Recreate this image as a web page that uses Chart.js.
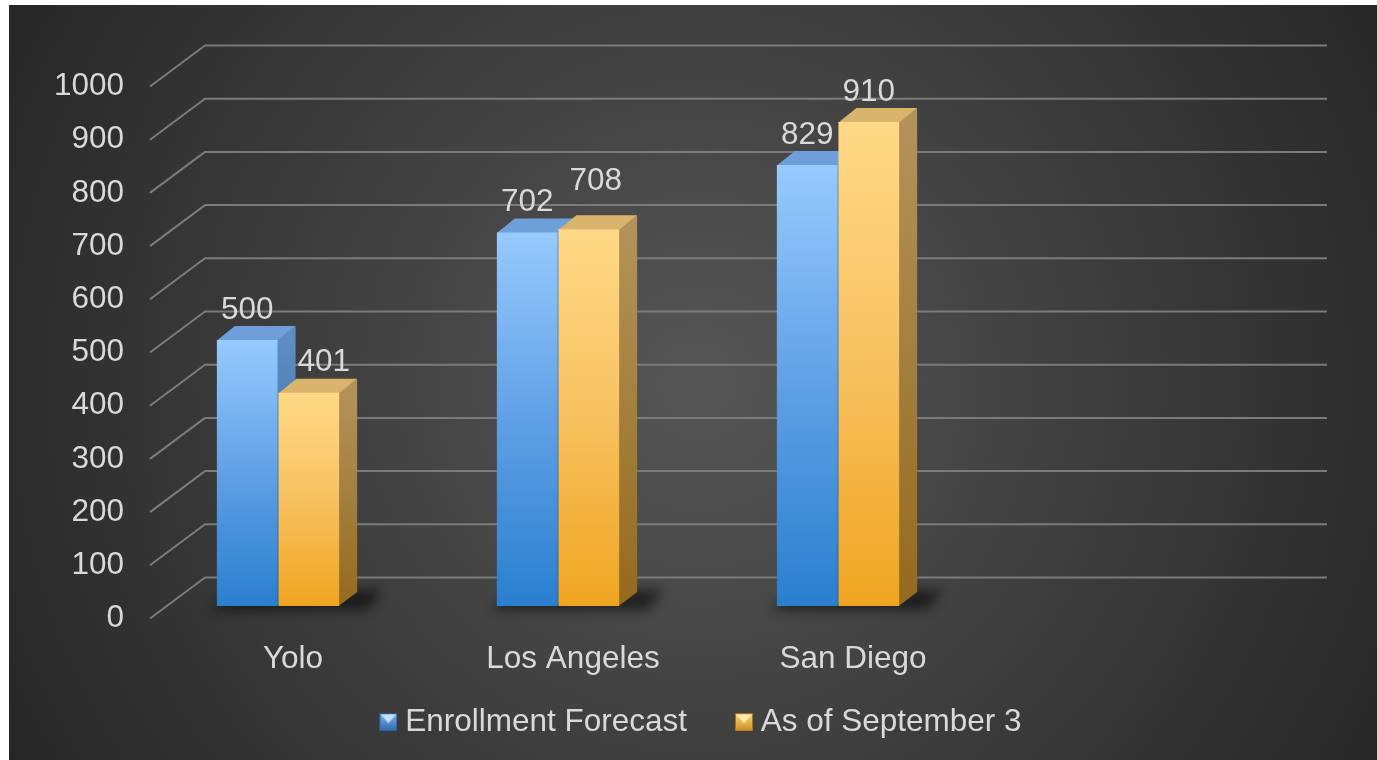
<!DOCTYPE html>
<html>
<head>
<meta charset="utf-8">
<script src="https://cdn.jsdelivr.net/npm/chart.js@4.4.1/dist/chart.umd.min.js"></script>
<style>
html,body{margin:0;padding:0;background:#ffffff;}
#wrap{position:absolute;left:9px;top:5px;width:1368px;height:755px;}
</style>
</head>
<body>
<div id="wrap"><canvas id="c"></canvas></div>
<script>
// ---- data ----
const categories = ['Yolo', 'Los Angeles', 'San Diego', ''];
const enrollmentForecast = [500, 702, 829, null];
const asOfSeptember3 = [401, 708, 910, null];
const seriesLabels = ['Enrollment Forecast', 'As of September 3'];
const yTickValues = [0, 100, 200, 300, 400, 500, 600, 700, 800, 900, 1000];

// ---- style ----
const FONT = "'Liberation Sans', Arial, sans-serif";
const FS = 31.5;
const TEXT = '#d9d9d9';
const DX = 18, DY = -14;
const PAL = [
  {top:'#97cafd', mid:'#60a0e5', bot:'#2a7fce', sideTop:'#5e8dc2', sideBot:'#215c98', cap:'#6e9fda',
   iTop:'#78b0ee', iBot:'#2e6aab', iTri:'rgba(215,235,255,0.85)', iEdge:'#2a5c94'},
  {top:'#ffd987', mid:'#f7c160', bot:'#f0a521', sideTop:'#b3925a', sideBot:'#946a1e', cap:'#d8b46c',
   iTop:'#fad67f', iBot:'#cf8f1c', iTri:'rgba(255,238,180,0.9)', iEdge:'#a7741b'}
];

function makeIcon(p) {
  const c = document.createElement('canvas');
  c.width = 18; c.height = 18;
  const g = c.getContext('2d');
  const gr = g.createLinearGradient(0, 0, 0, 18);
  gr.addColorStop(0, p.iTop); gr.addColorStop(1, p.iBot);
  g.fillStyle = gr; g.fillRect(0, 0, 18, 18);
  g.fillStyle = p.iTri;
  g.beginPath(); g.moveTo(1, 1); g.lineTo(17, 1); g.lineTo(9, 10); g.closePath(); g.fill();
  g.strokeStyle = p.iEdge; g.lineWidth = 1; g.strokeRect(0.5, 0.5, 17, 17);
  return c;
}
const icons = PAL.map(makeIcon);

function frontGradient(ctxArg, idx) {
  const chart = ctxArg.chart;
  const p = PAL[idx];
  if (!chart.chartArea || ctxArg.type !== 'data' || ctxArg.raw == null) return p.bot;
  const ys = chart.scales.y;
  const t = ys.getPixelForValue(ctxArg.raw), b = ys.getPixelForValue(0);
  const g = chart.ctx.createLinearGradient(0, t, 0, b);
  g.addColorStop(0, p.top); g.addColorStop(0.5, p.mid); g.addColorStop(1, p.bot);
  return g;
}

const bgPlugin = {
  id: 'bg',
  beforeDraw(chart) {
    const {ctx, width, height} = chart;
    ctx.save();
    const g = ctx.createRadialGradient(690, 375, 0, 690, 375, 790);
    g.addColorStop(0, '#565656');
    g.addColorStop(1, '#262626');
    ctx.fillStyle = g;
    ctx.fillRect(0, 0, width, height);
    ctx.restore();
  }
};

const legendPlace = {
  id: 'legendPlace',
  afterLayout(chart) {
    const lg = chart.legend;
    if (!lg) return;
    lg.top = 645.5;
    lg.height = 105;
    lg.bottom = lg.top + lg.height;
    lg.left -= 2; lg.right -= 2;
  }
};

const threeD = {
  id: 'threeD',
  beforeDatasetsDraw(chart) {
    const ctx = chart.ctx, ys = chart.scales.y, ca = chart.chartArea;
    // back wall + side wall grid lines
    ctx.save();
    ctx.strokeStyle = '#7b7b7b'; ctx.lineWidth = 2; ctx.lineJoin = 'round';
    ys.ticks.forEach(t => {
      const py = ys.getPixelForValue(t.value);
      ctx.beginPath();
      ctx.moveTo(ca.left + 12, py + 12.5);
      ctx.lineTo(ca.left + 67, py - 28.5);
      ctx.lineTo(ca.right + 69, py - 28.5);
      ctx.stroke();
    });
    ctx.restore();
    // floor shadows
    const m0 = chart.getDatasetMeta(0), m1 = chart.getDatasetMeta(1);
    ctx.save();
    ctx.filter = 'blur(6px)';
    ctx.fillStyle = 'rgba(0,0,0,0.55)';
    m0.data.forEach((b0, i) => {
      const b1 = m1.data[i];
      if (chart.data.datasets[0].data[i] == null) return;
      const p0 = b0.getProps(['x','width','base'], true), p1 = b1.getProps(['x','width','base'], true);
      const l = p0.x - p0.width / 2, r = p1.x + p1.width / 2, base = p0.base;
      ctx.beginPath();
      ctx.moveTo(l - 6, base + 4);
      ctx.lineTo(r + DX + 10, base + 4);
      ctx.lineTo(r + DX + 26, base + DY - 2);
      ctx.lineTo(l + DX, base + DY - 2);
      ctx.closePath();
      ctx.fill();
    });
    ctx.restore();
    // sides and tops
    chart.data.datasets.forEach((ds, di) => {
      const p = PAL[di];
      chart.getDatasetMeta(di).data.forEach((bar, i) => {
        if (ds.data[i] == null) return;
        const {x, y, width, base} = bar.getProps(['x','y','width','base'], true);
        const l = x - width / 2, r = x + width / 2;
        ctx.save();
        const sg = ctx.createLinearGradient(0, y, 0, base);
        sg.addColorStop(0, p.sideTop); sg.addColorStop(1, p.sideBot);
        ctx.fillStyle = sg;
        ctx.beginPath();
        ctx.moveTo(r - 0.5, y); ctx.lineTo(r + DX, y + DY); ctx.lineTo(r + DX, base + DY); ctx.lineTo(r - 0.5, base);
        ctx.closePath(); ctx.fill();
        ctx.fillStyle = p.cap;
        ctx.beginPath();
        ctx.moveTo(l, y + 0.5); ctx.lineTo(l + DX, y + DY); ctx.lineTo(r + DX, y + DY); ctx.lineTo(r, y + 0.5);
        ctx.closePath(); ctx.fill();
        ctx.restore();
      });
    });
  },
  afterDatasetsDraw(chart) {
    const ctx = chart.ctx;
    ctx.save();
    ctx.font = FS + 'px ' + FONT;
    ctx.fillStyle = TEXT;
    ctx.textAlign = 'center';
    ctx.textBaseline = 'middle';
    const placed = {};
    chart.data.datasets.forEach((ds, di) => {
      chart.getDatasetMeta(di).data.forEach((bar, i) => {
        if (ds.data[i] == null) return;
        const {x, y} = bar.getProps(['x','y'], true);
        const txt = String(ds.data[i]);
        const w = ctx.measureText(txt).width;
        let cx = x;
        let cy = y - 30;
        if (di > 0) {
          // avoid the 3D box of the previous series' bar in the same category
          const pb = chart.getDatasetMeta(di - 1).data[i].getProps(['x','y','width'], true);
          const pr = pb.x + pb.width / 2 + DX;
          if (cy + 12 > pb.y + DY && cx - w / 2 < pr) cx = pr + w / 2 + 2;
          // avoid crowding the previous label in the same category
          const prev = placed[i];
          if (prev && Math.abs(prev.cy - cy) < 26 && (cx - w / 2) - (prev.cx + prev.w / 2) < 14) {
            cy = prev.cy - 21;
            cx += 7;
          }
        }
        placed[i] = {cx, cy, w};
        ctx.fillText(txt, cx, cy);
      });
    });
    ctx.restore();
  }
};

new Chart(document.getElementById('c'), {
  type: 'bar',
  data: {
    labels: categories,
    datasets: [
      {label: seriesLabels[0], data: enrollmentForecast, backgroundColor: c => frontGradient(c, 0),
       borderWidth: 0, categoryPercentage: 0.44, barPercentage: 0.985},
      {label: seriesLabels[1], data: asOfSeptember3, backgroundColor: c => frontGradient(c, 1),
       borderWidth: 0, categoryPercentage: 0.44, barPercentage: 0.985}
    ]
  },
  options: {
    responsive: true,
    maintainAspectRatio: false,
    animation: false,
    devicePixelRatio: 1,
    layout: {padding: {left: 27, right: 0, top: 69, bottom: 14}},
    scales: {
      x: {
        grid: {display: false}, border: {display: false},
        ticks: {color: TEXT, font: {size: FS, family: FONT}, labelOffset: 15, padding: 26,
                maxRotation: 0, autoSkip: false},
        afterFit: s => { s.height = 80; }
      },
      y: {
        min: 0, max: 1000,
        grid: {display: false, drawTicks: false}, border: {display: false},
        afterBuildTicks: s => { s.ticks = yTickValues.map(v => ({value: v})); },
        ticks: {color: TEXT, font: {size: FS, family: FONT}, labelOffset: 12.5, padding: 14,
                callback: v => String(v)},
        afterFit: s => { s.width = 102; }
      },
      yR: {
        position: 'right', display: true,
        grid: {display: false}, border: {display: false}, ticks: {display: false},
        afterFit: s => { s.width = 119; }
      }
    },
    plugins: {
      tooltip: {enabled: false},
      legend: {
        position: 'bottom',
        maxHeight: 60,
        labels: {
          color: TEXT, font: {size: FS, family: FONT},
          usePointStyle: true, boxWidth: 2, boxHeight: 18, padding: 56,
          generateLabels: chart => chart.data.datasets.map((ds, i) => ({
            text: ds.label, fillStyle: PAL[i].bot, strokeStyle: 'rgba(0,0,0,0)', lineWidth: 0,
            pointStyle: icons[i], hidden: false, datasetIndex: i, fontColor: TEXT
          }))
        }
      }
    }
  },
  plugins: [bgPlugin, legendPlace, threeD]
});
</script>
</body>
</html>
